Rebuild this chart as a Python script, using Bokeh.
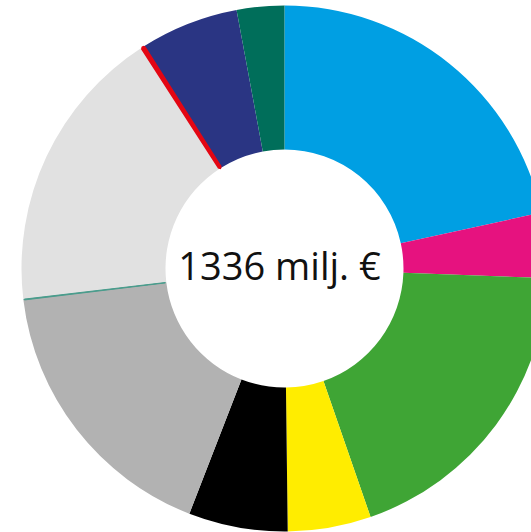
import numpy as np
from bokeh.plotting import figure
from bokeh.models import Range1d, ColumnDataSource
from bokeh.core.properties import value
from bokeh.embed import file_html
from bokeh.resources import INLINE

# Segments, clockwise from 12 o'clock (milj. €)
labels = ["blue", "magenta", "green", "yellow", "black", "gray", "small", "lightgray", "red", "navy", "darkgreen"]
values = [288.4, 53.4, 255.3, 68.3, 81.3, 229.7, 0.7, 237.1, 1.5, 81.3, 39.0]
colors = ["#009FE3", "#E6127F", "#3FA535", "#FFED00", "#000000", "#B2B2B2",
          "#4A9C8C", "#E1E1E1", "#E30613", "#2A3583", "#006E5A"]
center_label = "1336 milj. €"

W, H = 531, 532
cx, cy = 284, H - 268
r_out, r_in = 263, 119

vals = np.array(values)
frac = vals / vals.sum()
cum = np.concatenate([[0], np.cumsum(frac)])
start = np.pi / 2 - cum[:-1] * 2 * np.pi
end = np.pi / 2 - cum[1:] * 2 * np.pi

src = ColumnDataSource(dict(start=start, end=end, color=colors, label=labels))

p = figure(width=W, height=H, output_backend="svg", toolbar_location=None,
           x_range=Range1d(0, W), y_range=Range1d(0, H),
           min_border=0, outline_line_color=None)
p.axis.visible = False
p.grid.visible = False
p.background_fill_color = "white"
p.border_fill_color = "white"

p.annular_wedge(x=cx, y=cy, inner_radius=r_in, outer_radius=r_out,
                start_angle="start", end_angle="end", direction="clock",
                fill_color="color", line_color=None, source=src)

# thin slices get a stroke in their own colour so they stay visible
small = [i for i, v in enumerate(values) if v < 5]
p.annular_wedge(x=cx, y=cy, inner_radius=r_in + 1, outer_radius=r_out - 1,
                start_angle=start[small], end_angle=end[small], direction="clock",
                fill_color=[colors[i] for i in small],
                line_color=[colors[i] for i in small],
                line_width=[3.5 if values[i] > 1 else 1.0 for i in small])

p.text(x=[279], y=[H - 264.7], text=[center_label], text_font=value("Open Sans"),
       text_font_size="38px", text_align="center", text_baseline="alphabetic",
       text_color="#111111")

open("out.html", "w").write(file_html(p, INLINE))
